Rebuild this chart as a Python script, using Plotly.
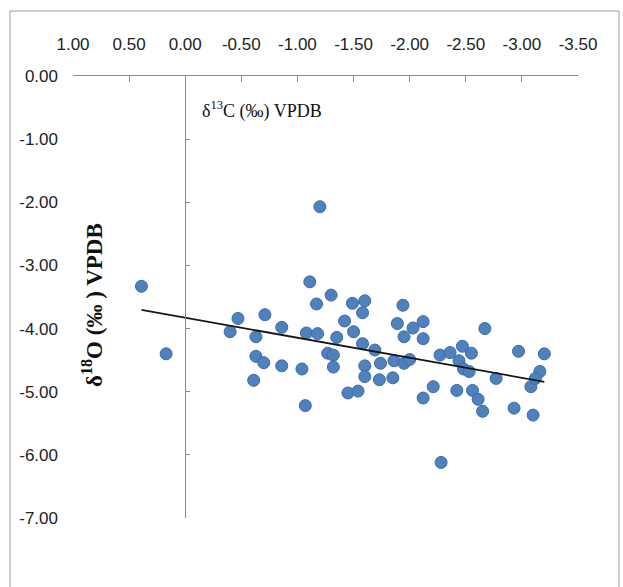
import numpy as np
import plotly.graph_objects as go

# δ13C (‰ VPDB) values
d13c = [0.39, 0.17, -0.40, -0.47, -0.71, -0.63, -0.63, -0.70, -0.61, -0.86,
        -0.86, -1.04, -1.07, -1.08, -1.11, -1.17, -1.18, -1.20, -1.30, -1.27,
        -1.32, -1.32, -1.35, -1.42, -1.49, -1.50, -1.58, -1.60, -1.58, -1.69,
        -1.60, -1.60, -1.74, -1.73, -1.86, -1.85, -1.45, -1.54, -1.94, -1.89,
        -2.03, -1.95, -2.12, -2.12, -1.95, -2.00, -2.27, -2.36, -2.47, -2.55,
        -2.44, -2.48, -2.53, -2.67, -2.77, -2.97, -3.20, -3.16, -3.08, -2.21,
        -2.12, -2.42, -2.56, -2.61, -2.65, -2.93, -3.10, -2.28, -3.12]
# δ18O (‰ VPDB) values
d18o = [-3.33, -4.40, -4.05, -3.84, -3.78, -4.13, -4.44, -4.54, -4.82, -3.98,
        -4.59, -4.64, -5.22, -4.07, -3.26, -3.61, -4.08, -2.07, -3.47, -4.39,
        -4.42, -4.61, -4.14, -3.88, -3.60, -4.05, -3.75, -3.56, -4.24, -4.34,
        -4.59, -4.76, -4.55, -4.81, -4.51, -4.78, -5.02, -4.99, -3.63, -3.92,
        -3.99, -4.13, -3.89, -4.16, -4.55, -4.49, -4.42, -4.38, -4.28, -4.39,
        -4.51, -4.64, -4.68, -4.00, -4.79, -4.36, -4.40, -4.68, -4.92, -4.92,
        -5.10, -4.98, -4.98, -5.12, -5.31, -5.26, -5.37, -6.12, -4.79]

x_ticks = [1.0, 0.5, 0.0, -0.5, -1.0, -1.5, -2.0, -2.5, -3.0, -3.5]
y_ticks = [0.0, -1.0, -2.0, -3.0, -4.0, -5.0, -6.0, -7.0]
x_tick_labels = [f"{v:.2f}" for v in x_ticks]
y_tick_labels = [f"{v:.2f}" for v in y_ticks]

x_title = "δ<sup>13</sup>C (‰) VPDB"
y_title = "δ<sup>18</sup>O (‰ ) VPDB"

# linear trendline (least squares), spanning data x range
slope, intercept = np.polyfit(d13c, d18o, 1)
tx = np.array([max(d13c), min(d13c)])
ty = slope * tx + intercept

tick_font = dict(family="Liberation Sans Narrow, Arial Narrow, Liberation Sans, Arial", size=17, color="#222222")
axis_gray = "#8a8a8a"

fig = go.Figure()
fig.add_trace(go.Scatter(
    x=d13c, y=d18o, mode="markers",
    marker=dict(color="#4F81BD", size=12, line=dict(color="#3b6aa6", width=1)),
    showlegend=False, hoverinfo="x+y"))
fig.add_trace(go.Scatter(
    x=tx, y=ty, mode="lines", yaxis="y2",
    line=dict(color="#161616", width=1.8),
    showlegend=False, hoverinfo="skip"))

fig.update_layout(
    width=623, height=587,
    margin=dict(l=73, r=45, t=76, b=69),
    paper_bgcolor="white", plot_bgcolor="white",
    xaxis=dict(
        range=[1.0, -3.5], side="top", showgrid=False, zeroline=False,
        showline=True, linecolor=axis_gray, linewidth=1,
        ticks="inside", ticklen=6, tickcolor=axis_gray,
        tickvals=x_ticks, ticktext=x_tick_labels, tickfont=tick_font,
        ticklabelstandoff=18),
    yaxis=dict(
        range=[-7.0, 0.0], showgrid=False, zeroline=False, showline=False,
        ticks="", tickvals=y_ticks, ticktext=y_tick_labels, tickfont=tick_font,
        ticklabelstandoff=14),
    yaxis2=dict(
        range=[-7.0, 0.0], overlaying="y", anchor="free", position=1 / 4.5,
        side="left", showgrid=False, zeroline=False, showline=True,
        linecolor=axis_gray, linewidth=1, ticks="inside", ticklen=4,
        tickcolor=axis_gray, tickvals=y_ticks, showticklabels=False),
    annotations=[
        dict(text=x_title, xref="paper", yref="paper", x=0.2515, y=0.923,
             xanchor="left", yanchor="middle", showarrow=False,
             font=dict(family="Liberation Serif, Times New Roman, serif", size=18, color="#111111")),
        dict(text="<b>" + y_title + "</b>", xref="paper", yref="paper", x=0.0396, y=0.482,
             xanchor="center", yanchor="middle", textangle=-90, showarrow=False,
             font=dict(family="Liberation Serif, Times New Roman, serif", size=23, color="#111111")),
    ],
    shapes=[dict(type="rect", xref="paper", yref="paper",
                 x0=-0.1248, x1=1.0812, y0=-0.17, y1=1.147,
                 line=dict(color="#9a9a9a", width=1), layer="below")],
)

fig.write_html("out.html")
